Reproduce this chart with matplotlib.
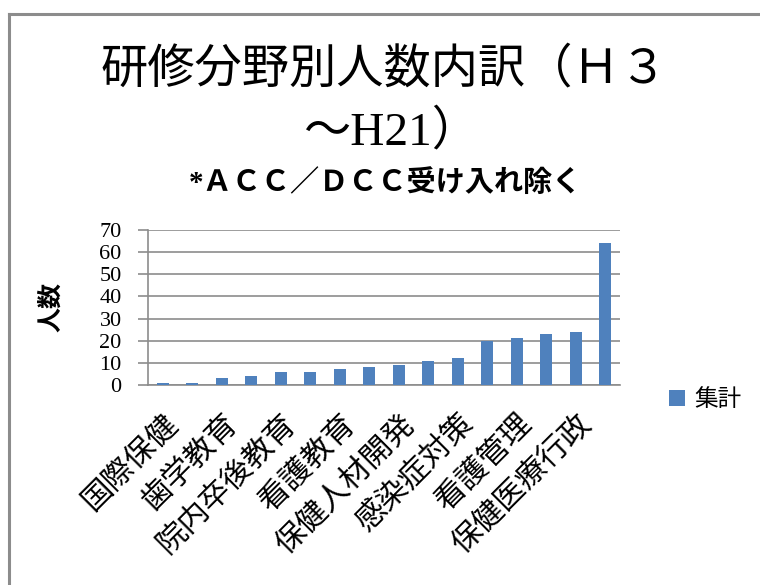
import matplotlib.pyplot as plt
import numpy as np

plt.rcParams['font.family'] = ['Liberation Serif', 'Noto Sans CJK JP', 'DejaVu Sans']

# data (only every other category label is shown)
categories = ['国際保健', '', '歯学教育', '', '院内卒後教育', '', '看護教育', '',
              '保健人材開発', '', '感染症対策', '', '看護管理', '', '保健医療行政', '']
counts = [1, 1, 3, 4, 6, 6, 7, 8, 9, 11, 12, 20, 21, 23, 24, 64]
yticks = [0, 10, 20, 30, 40, 50, 60, 70]
series_name = '集計'

blue = '#4F81BD'
grid_col = '#8C8C8C'
jp = ['Liberation Serif', 'Noto Sans CJK JP']

fig = plt.figure(figsize=(7.6, 5.85), dpi=100)
ax = fig.add_axes([0.1947, 0.3419, 0.621, 0.265])

x = np.arange(len(counts))
ax.bar(x, counts, width=0.4, color=blue, label=series_name, zorder=3)

ax.set_xlim(-0.5, len(counts) - 0.5)
ax.set_ylim(0, 70)
ax.set_yticks(yticks)
ax.set_yticklabels([str(v) for v in yticks], fontsize=16, family='Liberation Serif')
ax.yaxis.grid(True, color=grid_col, lw=1.2, zorder=0)

shown = [i for i, c in enumerate(categories) if c]
ax.set_xticks(shown)
ax.set_xticklabels([categories[i] for i in shown], rotation=45, ha='right',
                   va='top', rotation_mode='anchor', fontsize=22,
                   family='Noto Sans CJK JP')
ax.tick_params(axis='x', length=0, pad=17)
ax.tick_params(axis='y', length=7, width=1.2, color=grid_col, pad=12)

for s in ['top', 'right']:
    ax.spines[s].set_visible(False)
for s in ['left', 'bottom']:
    ax.spines[s].set_color(grid_col)
    ax.spines[s].set_linewidth(1.2)

ax.set_ylabel('人数', fontsize=18, family='Noto Sans CJK JP', fontweight='bold',
              labelpad=26)

fig.text(0.505, 0.880, '研修分野別人数内訳（Ｈ３', fontsize=34, ha='center',
         va='center', family=jp)
fig.text(0.515, 0.775, '～H21）', fontsize=34, ha='center', va='center', family=jp)
fig.text(0.507, 0.687, '*ＡＣＣ／ＤＣＣ受け入れ除く', fontsize=21, ha='center',
         va='center', family=jp, fontweight='bold')

ax.legend(loc='center left', bbox_to_anchor=(1.06, -0.095), frameon=False,
          prop={'family': 'Noto Sans CJK JP', 'size': 17},
          handlelength=0.65, handleheight=0.65, handletextpad=0.4)

# chart-area border (left and top edges visible)
fig.add_artist(plt.Line2D([0.0118, 0.0118], [0, 0.976], color='#8C8C8C', lw=2.2))
fig.add_artist(plt.Line2D([0.0118, 1.0], [0.976, 0.976], color='#8C8C8C', lw=2.2))

fig.savefig('out.png', dpi=100)
